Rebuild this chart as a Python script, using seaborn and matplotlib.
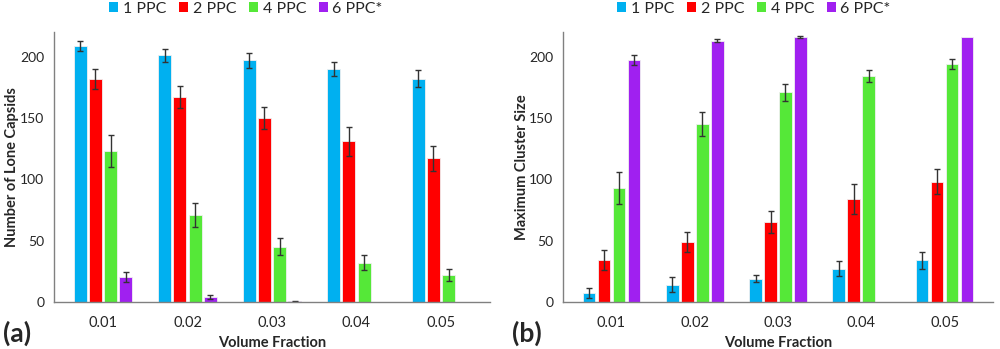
import numpy as np
import pandas as pd
import matplotlib
matplotlib.use("Agg")
import matplotlib.pyplot as plt
import seaborn as sns

sns.set_theme(style="white")
plt.rcParams['font.family'] = ['Lato', 'DejaVu Sans']

# --- data ---
fractions = ["0.01", "0.02", "0.03", "0.04", "0.05"]
series = ["1 PPC", "2 PPC", "4 PPC", "6 PPC*"]
colors = ["#00B0F0", "#FF0000", "#55E838", "#A020F0"]

lone_1 = [209, 201, 197, 190, 182]
lone_2 = [182, 167, 150, 131, 117]
lone_4 = [123, 71, 45, 32, 22]
lone_6 = [20, 4, 0.5, 0, 0]
lone_err_1 = [4, 5, 6, 6, 7]
lone_err_2 = [8, 9, 9, 12, 10]
lone_err_4 = [13, 10, 7, 6, 5]
lone_err_6 = [4, 1.5, 0.5, 0, 0]

clus_1 = [7, 14, 19, 27, 34]
clus_2 = [34, 49, 65, 84, 98]
clus_4 = [93, 145, 171, 184, 194]
clus_6 = [197, 213, 216, np.nan, 216]
clus_err_1 = [4, 6, 3, 6, 7]
clus_err_2 = [8, 8, 9, 12, 10]
clus_err_4 = [13, 10, 7, 5, 4]
clus_err_6 = [4, 1, 0.5, 0, 0]


def long_table(vals, errs):
    rows = []
    for s, v, e in zip(series, vals, errs):
        for f, vi, ei in zip(fractions, v, e):
            rows.append({"fraction": f, "series": s, "value": vi, "err": ei})
    return pd.DataFrame(rows)


def panel(ax, df, ylabel, legend_x):
    sns.barplot(data=df, x="fraction", y="value", hue="series", hue_order=series,
                palette=colors, saturation=1, width=0.72, gap=0.15, errorbar=None,
                edgecolor="#f0f0f0", linewidth=0.6, ax=ax)
    # error bars at the bar centres the library placed
    for s, cont in zip(series, ax.containers):
        sub = df[df["series"] == s]
        for bar, (_, r) in zip(cont.patches, sub.iterrows()):
            if np.isnan(r["value"]) or r["err"] == 0:
                continue
            ax.errorbar(bar.get_x() + bar.get_width() / 2, r["value"], yerr=r["err"],
                        fmt="none", ecolor="#333333", elinewidth=1.0, capsize=2, capthick=1.0)
    ax.set_ylim(0, 220)
    ax.set_yticks([0, 50, 100, 150, 200])
    ax.set_xlabel("Volume Fraction", fontsize=10.5, fontweight="bold")
    ax.set_ylabel(ylabel, fontsize=10.5, fontweight="bold")
    ax.xaxis.set_label_coords(0.5, -0.125)
    ax.yaxis.set_label_coords(-0.08, 0.5)
    ax.tick_params(axis="x", labelsize=10.5, length=0, pad=10)
    ax.tick_params(axis="y", labelsize=10, length=0, pad=7)
    for side in ["top", "right"]:
        ax.spines[side].set_visible(False)
    for side in ["left", "bottom"]:
        ax.spines[side].set_color("#808080")
        ax.spines[side].set_linewidth(1.0)
    leg = ax.legend(loc="center", bbox_to_anchor=(legend_x, 0.975),
                    bbox_transform=ax.figure.transFigure, ncol=4, frameon=False,
                    fontsize=11.5, handlelength=0.55, handleheight=0.55, handletextpad=0.3,
                    columnspacing=0.8, borderpad=0)
    for h in leg.legend_handles:
        h.set_edgecolor("none")


fig = plt.figure(figsize=(10, 3.49), dpi=100)
ax1 = fig.add_axes([0.054, 0.135, 0.436, 0.773])
ax2 = fig.add_axes([0.563, 0.135, 0.430, 0.773])

panel(ax1, long_table([lone_1, lone_2, lone_4, lone_6],
                      [lone_err_1, lone_err_2, lone_err_4, lone_err_6]),
      "Number of Lone Capsids", 0.246)
panel(ax2, long_table([clus_1, clus_2, clus_4, clus_6],
                      [clus_err_1, clus_err_2, clus_err_4, clus_err_6]),
      "Maximum Cluster Size", 0.754)

fig.text(0.003, 0.02, "(a)", fontsize=19, fontweight="bold")
fig.text(0.512, 0.02, "(b)", fontsize=19, fontweight="bold")

fig.savefig("out.png", dpi=100)
